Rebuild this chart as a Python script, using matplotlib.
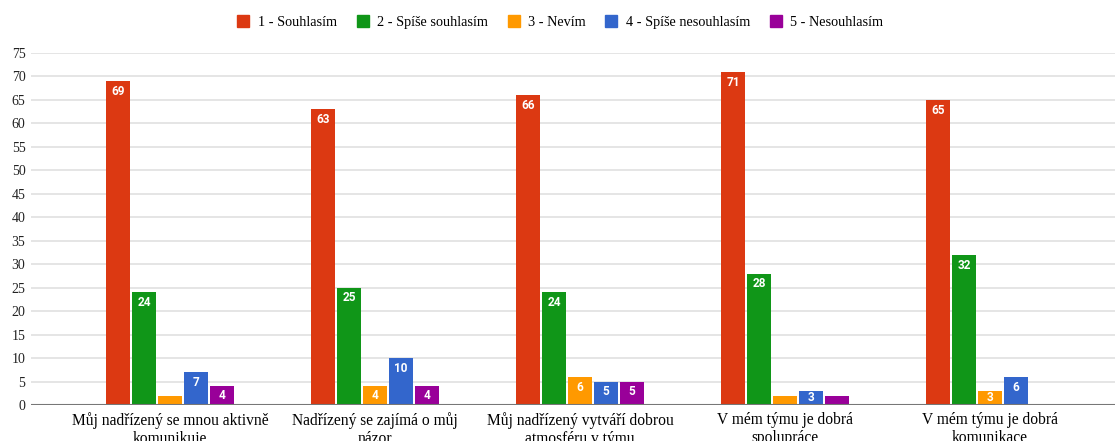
import matplotlib.pyplot as plt
from matplotlib.lines import Line2D
import numpy as np

categories = [
    "Můj nadřízený se mnou aktivně\nkomunikuje",
    "Nadřízený se zajímá o můj\nnázor",
    "Můj nadřízený vytváří dobrou\natmosféru v týmu",
    "V mém týmu je dobrá\nspolupráce",
    "V mém týmu je dobrá\nkomunikace",
]
series_names = ["1 - Souhlasím", "2 - Spíše souhlasím", "3 - Nevím",
                "4 - Spíše nesouhlasím", "5 - Nesouhlasím"]
souhlasim = [69, 63, 66, 71, 65]
spise_souhlasim = [24, 25, 24, 28, 32]
nevim = [2, 4, 6, 2, 3]
spise_nesouhlasim = [7, 10, 5, 3, 6]
nesouhlasim = [4, 4, 5, 2, 0]

series = [souhlasim, spise_souhlasim, nevim, spise_nesouhlasim, nesouhlasim]
colors = ["#dc3912", "#109618", "#ff9900", "#3366cc", "#990099"]

serif = ["Liberation Serif", "DejaVu Serif"]

fig = plt.figure(figsize=(11.15, 4.41), dpi=100)
ax = fig.add_axes([31 / 1115, 1 - 405 / 441, 1 - 31 / 1115, (405 - 53) / 441])

x = np.arange(len(categories))
step = 26 / 205
width = 24 / 205
for i, (vals, col) in enumerate(zip(series, colors)):
    pos = x + (i - 2) * step
    ax.bar(pos, vals, width=width, color=col, zorder=3)
    for px, v in zip(pos, vals):
        if v >= 3:
            off = min(2.2, v / 2)
            ax.text(px, v - off, str(v), ha="center", va="center", color="white",
                    fontsize=8.5, fontweight="bold", family="Roboto", zorder=4)

ax.set_xlim((31 - 170) / 205, (1115 - 170) / 205)
ax.set_ylim(0, 75)
ax.set_yticks(range(0, 76, 5))
ax.yaxis.grid(True, color="#e0e0e0", linewidth=1.2, zorder=0)
ax.axhline(0, color="#777777", linewidth=1.5, zorder=5)
for s in ax.spines.values():
    s.set_visible(False)
ax.tick_params(axis="both", length=0)
ax.tick_params(axis="y", pad=4)
ax.set_xticks(x)
ax.set_xticklabels(categories, fontsize=11.2, family=serif, linespacing=1.2)
ax.tick_params(axis="x", pad=5)
for lbl in ax.get_yticklabels():
    lbl.set_family(serif)
    lbl.set_fontsize(10)
    lbl.set_color("#222222")

handles = [Line2D([], [], marker="s", linestyle="none", markersize=9,
                  markerfacecolor=c, markeredgecolor=c) for c in colors]
fig.legend(handles, series_names, loc="center", bbox_to_anchor=(0.502, 1 - 22 / 441),
           ncol=5, frameon=False, prop={"family": serif, "size": 10.3},
           handlelength=1.0, handletextpad=0.5, columnspacing=1.3)

fig.savefig("out.png", dpi=100)
